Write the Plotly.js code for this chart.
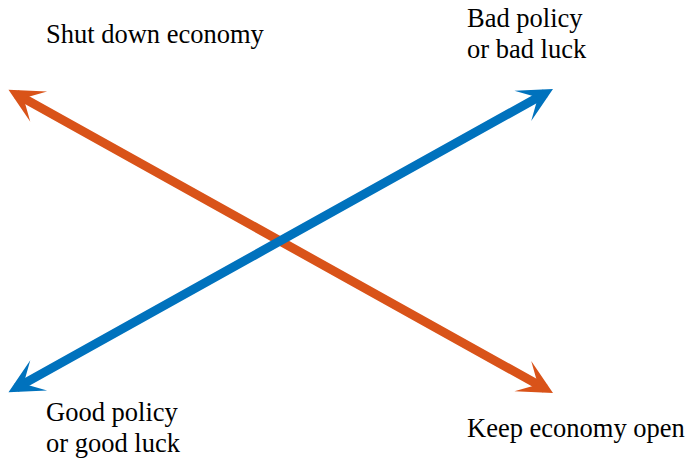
<!DOCTYPE html>
<html>
<head>
<meta charset="utf-8">
<script src="https://cdn.plot.ly/plotly-3.0.1.min.js"></script>
<style>html,body{margin:0;padding:0;background:#fff;}#chart{width:692px;height:458px;}</style>
</head>
<body>
<div id="chart"></div>
<script>
// Arrow end points (conceptual 0..1 space)
const orangeX = [0, 1];   // Shut down economy  <->  Keep economy open
const orangeY = [1, 0];
const blueX = [0, 1];     // Good policy / good luck  <->  Bad policy / bad luck
const blueY = [0, 1];

// Labels
const labelShut = ["Shut down economy"];
const labelBad = ["Bad policy", "or bad luck"];
const labelGood = ["Good policy", "or good luck"];
const labelKeep = ["Keep economy open"];

const ORANGE = "#D95319";
const BLUE = "#0072BD";
const FONT = {family: "Liberation Serif, Times New Roman, serif", size: 26.5, color: "#000"};

function arrow(xs, ys, color) {
  return {
    x: xs[1], y: ys[1], ax: xs[0], ay: ys[0],
    xref: "x", yref: "y", axref: "x", ayref: "y",
    text: " ", font: {size: 1},
    showarrow: true, arrowside: "end+start",
    arrowhead: 3, startarrowhead: 3,
    arrowsize: 0.64, startarrowsize: 0.64,
    arrowwidth: 9, arrowcolor: color, standoff: 0, startstandoff: 0
  };
}

function label(lines, xPx, firstBaseline, lineGap) {
  return lines.map((t, i) => ({
    xref: "paper", yref: "paper",
    x: xPx / 692,
    y: 1 - (firstBaseline + i * lineGap - 23.6) / 458,
    xanchor: "left", yanchor: "top",
    text: t, showarrow: false, font: FONT,
    borderpad: 0, borderwidth: 0, align: "left"
  }));
}

const annotations = [
  arrow(orangeX, orangeY, ORANGE),
  arrow(blueX, blueY, BLUE),
  ...label(labelShut, 46, 43, 31),
  ...label(labelBad, 467, 27, 31),
  ...label(labelGood, 46, 421, 31),
  ...label(labelKeep, 467, 437, 31)
];

const layout = {
  width: 692, height: 458,
  margin: {l: 0, r: 0, t: 0, b: 0},
  paper_bgcolor: "#fff", plot_bgcolor: "#fff",
  showlegend: false,
  font: {family: "Liberation Serif, Times New Roman, serif"},
  xaxis: {range: [-7/546, 685/546], visible: false, fixedrange: true},
  yaxis: {range: [-65/304, 1 + 89/304], visible: false, fixedrange: true},
  annotations: annotations
};

Plotly.newPlot("chart", [], layout, {displayModeBar: false, staticPlot: true});
</script>
</body>
</html>
